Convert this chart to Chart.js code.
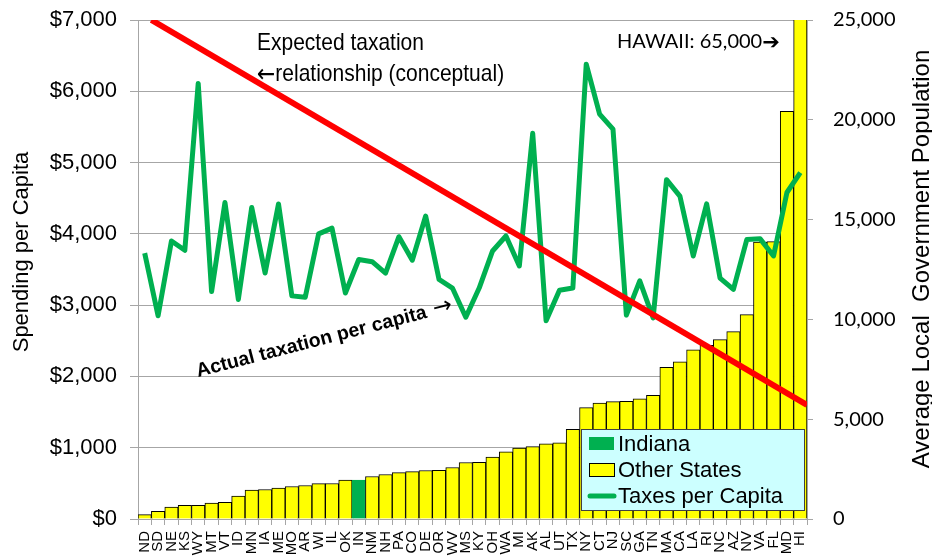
<!DOCTYPE html>
<html>
<head>
<meta charset="utf-8">
<title>Local government size and taxes per capita</title>
<script src="https://cdn.jsdelivr.net/npm/chart.js@4.4.1/dist/chart.umd.min.js"></script>
<style>
  html, body { margin: 0; padding: 0; background: #fff; }
  #wrap { position: relative; width: 932px; height: 559px; }
</style>
</head>
<body>
<div id="wrap"><canvas id="chart"></canvas></div>
<script>
// states, sorted by average local government population
const states = ['ND','SD','NE','KS','WY','MT','VT','ID','MN','IA','ME','MO','AR','WI','IL','OK','IN','NM','NH','PA',
                'CO','DE','OR','WV','MS','KY','OH','WA','MI','AK','AL','UT','TX','NY','CT','NJ','SC','GA','TN','MA',
                'CA','LA','RI','NC','AZ','NV','VA','FL','MD','HI'];

// average population served per local government (right axis)
const localGovPopulation = [220, 380, 600, 680, 690, 800, 830, 1150, 1450, 1480, 1550, 1630, 1680, 1770, 1780, 1950, 1950, 2130, 2230, 2320,
                            2370, 2430, 2440, 2580, 2830, 2840, 3100, 3370, 3550, 3630, 3770, 3820, 4490, 5580, 5810, 5880, 5900, 6020, 6190, 7600,
                            7880, 8480, 8700, 8990, 9390, 10240, 13880, 13900, 20420, 65000];

// state + local taxes per capita (left axis)
const taxesPerCapita = [3730, 2850, 3900, 3770, 6110, 3190, 4440, 3080, 4370, 3450, 4420, 3130, 3110, 4000, 4080, 3170, 3640, 3610, 3450, 3960,
                        3630, 4250, 3360, 3240, 2830, 3240, 3760, 3970, 3550, 5410, 2780, 3210, 3240, 6380, 5680, 5470, 2860, 3340, 2820, 4760,
                        4530, 3690, 4420, 3380, 3220, 3920, 3930, 3690, 4580, 4860];

// conceptual "expected" relationship, on a 0..50 position scale across the states
const expectedX = [1, 50];
const expectedY = [7000, 1600];

const highlightState = 'IN';
const legendLabels = ['Indiana', 'Other States', 'Taxes per Capita'];

const GREEN = '#00B050';
const YELLOW = '#FFFF00';
const RED = '#FF0000';
const GRID = '#A6A6A6';
const ARIAL = '"Liberation Sans", Arial, sans-serif';
const SYMBOLS = '"DejaVu Sans", sans-serif';

const barFill = states.map(s => s === highlightState ? GREEN : YELLOW);
const barEdge = states.map(s => s === highlightState ? GREEN : '#000000');

// keep tick-label overflow from pushing the plot area around
function fixWidth(width) {
  return scale => {
    scale.width = width;
    scale.paddingTop = 0;
    scale.paddingBottom = 0;
  };
}

const overlay = {
  id: 'overlay',
  afterDraw(chart) {
    const { ctx } = chart;

    // axis titles
    ctx.save();
    ctx.fillStyle = '#000';
    ctx.font = '22px ' + ARIAL;
    ctx.textAlign = 'center';
    ctx.textBaseline = 'middle';
    ctx.translate(22, 252);
    ctx.rotate(-Math.PI / 2);
    ctx.fillText('Spending per Capita', 0, 0);
    ctx.restore();

    ctx.save();
    ctx.fillStyle = '#000';
    ctx.font = '24px ' + ARIAL;
    ctx.textAlign = 'center';
    ctx.textBaseline = 'middle';
    ctx.translate(922, 259);
    ctx.rotate(-Math.PI / 2);
    ctx.fillText('Average Local  Government Population', 0, 0);
    ctx.restore();

    // notes (narrow face squeezed from the regular one)
    ctx.save();
    ctx.fillStyle = '#000';
    ctx.translate(257, 0);
    ctx.scale(0.875, 1);
    ctx.font = '24px ' + ARIAL;
    ctx.fillText('Expected taxation', 0, 50);
    ctx.font = '25px ' + SYMBOLS;
    ctx.fillText('\u2190', 0, 82);
    const aw = ctx.measureText('\u2190').width;
    ctx.font = '24px ' + ARIAL;
    ctx.fillText('relationship (conceptual)', aw, 81);
    ctx.restore();

    ctx.save();
    ctx.fillStyle = '#000';
    ctx.font = '20px Lato, ' + ARIAL;
    const hi = states.indexOf('HI');
    const hiText = 'HAWAII: ' + localGovPopulation[hi].toLocaleString('en-US');
    ctx.fillText(hiText, 617, 48);
    const w = ctx.measureText(hiText).width;
    ctx.font = '21px ' + SYMBOLS;
    ctx.fillText('\u2794', 617 + w, 49);
    ctx.restore();

    ctx.save();
    ctx.fillStyle = '#000';
    ctx.translate(198, 377);
    ctx.rotate(-14.5 * Math.PI / 180);
    ctx.font = 'bold 19.5px ' + ARIAL;
    const label = 'Actual taxation per capita';
    ctx.fillText(label, 0, 0);
    const lw = ctx.measureText(label).width;
    ctx.font = '23px ' + SYMBOLS;
    ctx.fillText(' \u2192', lw, 0);
    ctx.restore();

    // legend box
    ctx.save();
    const bx = 581, by = 429, bw = 223, bh = 81;
    ctx.fillStyle = '#CCFFFF';
    ctx.fillRect(bx, by, bw, bh);
    ctx.strokeStyle = '#404040';
    ctx.lineWidth = 1;
    ctx.strokeRect(bx + 0.5, by + 0.5, bw, bh);

    ctx.fillStyle = GREEN;
    ctx.fillRect(589, 437, 25, 13);
    ctx.fillStyle = YELLOW;
    ctx.fillRect(589, 463, 25, 13);
    ctx.strokeStyle = '#000';
    ctx.strokeRect(589.5, 463.5, 25, 13);
    ctx.strokeStyle = GREEN;
    ctx.lineWidth = 5;
    ctx.lineCap = 'round';
    ctx.beginPath();
    ctx.moveTo(590, 496);
    ctx.lineTo(614, 496);
    ctx.stroke();

    ctx.fillStyle = '#000';
    ctx.font = '22px ' + ARIAL;
    ctx.textBaseline = 'alphabetic';
    ctx.fillText(legendLabels[0], 618, 451);
    ctx.fillText(legendLabels[1], 618, 477);
    ctx.fillText(legendLabels[2], 618, 503);
    ctx.restore();
  }
};

new Chart(document.getElementById('chart'), {
  type: 'bar',
  data: {
    labels: states,
    datasets: [
      {
        label: 'Expected taxation',
        type: 'line',
        data: expectedX.map((x, i) => ({ x, y: expectedY[i] })),
        xAxisID: 'xLine',
        yAxisID: 'y',
        borderColor: RED,
        borderWidth: 6,
        pointRadius: 0,
        order: 0
      },
      {
        label: legendLabels[2],
        type: 'line',
        data: taxesPerCapita,
        yAxisID: 'y',
        borderColor: GREEN,
        borderWidth: 5,
        borderJoinStyle: 'round',
        pointRadius: 0,
        tension: 0,
        order: 1
      },
      {
        label: 'Average Local Government Population',
        data: localGovPopulation,
        xAxisID: 'x',
        yAxisID: 'yr',
        backgroundColor: barFill,
        borderColor: barEdge,
        borderWidth: 1,
        grouped: false,
        barPercentage: 1,
        categoryPercentage: 1,
        order: 2
      }
    ]
  },
  options: {
    responsive: true,
    maintainAspectRatio: false,
    animation: false,
    layout: { padding: { top: 20, left: 0, right: 0, bottom: 0 } },
    datasets: {
      bar: { barPercentage: 1, categoryPercentage: 1 }
    },
    plugins: {
      legend: { display: false },
      tooltip: { enabled: false }
    },
    scales: {
      x: {
        offset: true,
        grid: { offset: true, drawOnChartArea: false, tickLength: 6, color: GRID },
        border: { color: GRID },
        ticks: {
          autoSkip: false,
          maxRotation: 90,
          minRotation: 90,
          padding: 6,
          color: '#000',
          font: { family: ARIAL, size: 15 }
        },
        afterFit(scale) { scale.height = 40; }
      },
      // invisible position scale for the conceptual line, spanning the plot width
      xLine: {
        type: 'linear',
        position: 'top',
        offset: false,
        min: 0,
        max: 50,
        grid: { display: false },
        border: { display: false },
        ticks: { display: false },
        afterFit(scale) { scale.height = 0; }
      },
      y: {
        position: 'left',
        min: 0,
        max: 7000,
        grid: { color: GRID, tickLength: 8 },
        border: { color: GRID },
        ticks: {
          stepSize: 1000,
          padding: 13,
          color: '#000',
          font: { family: ARIAL, size: 22 },
          callback: v => '$' + v.toLocaleString('en-US')
        },
        afterFit: fixWidth(138)
      },
      yr: {
        position: 'right',
        min: 0,
        max: 25000,
        grid: { drawOnChartArea: false, color: GRID, tickLength: 6 },
        border: { color: GRID },
        ticks: {
          stepSize: 5000,
          padding: 20,
          color: '#000',
          font: { family: 'Lato, ' + ARIAL, size: 20 },
          callback: v => v.toLocaleString('en-US')
        },
        afterFit: fixWidth(125)
      }
    }
  },
  plugins: [overlay]
});
</script>
</body>
</html>
